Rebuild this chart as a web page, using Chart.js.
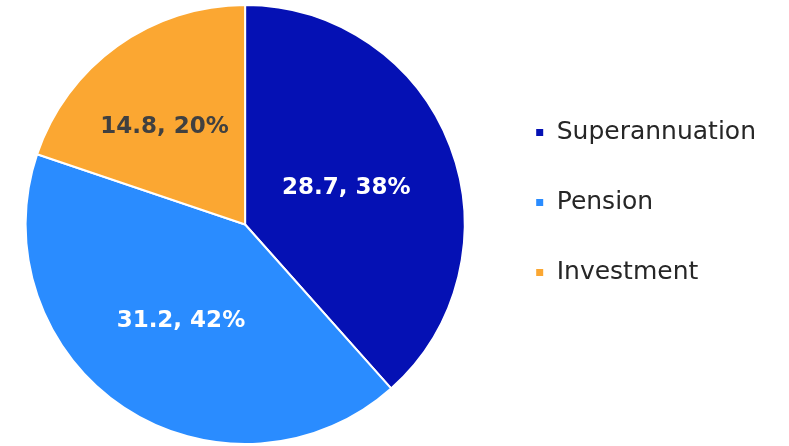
<!DOCTYPE html>
<html>
<head>
<meta charset="utf-8">
<script src="https://cdn.jsdelivr.net/npm/chart.js@4"></script>
<style>
  html, body { margin: 0; padding: 0; background: #fff; }
  #wrap { width: 789px; height: 446px; }
</style>
</head>
<body>
<div id="wrap"><canvas id="pie"></canvas></div>
<script>
const labels = ["Superannuation", "Pension", "Investment"];
const values = [28.7, 31.2, 14.8];
const colors = ["#0511b4", "#2a8cff", "#fba732"];
const labelColors = ["#ffffff", "#ffffff", "#404040"];
const labelDist = [0.49, 0.53, 0.575];
const labelTurn = [1, 0, -4]; // degrees

const total = values.reduce((a, b) => a + b, 0);

// labels "value, pct%" inside the slices
const sliceLabels = {
  id: "sliceLabels",
  afterDatasetsDraw(chart) {
    const ctx = chart.ctx;
    const meta = chart.getDatasetMeta(0);
    ctx.save();
    ctx.font = "bold 23px 'DejaVu Sans'";
    ctx.textAlign = "center";
    ctx.textBaseline = "middle";
    meta.data.forEach((arc, i) => {
      const p = arc.getProps(["x", "y", "startAngle", "endAngle", "outerRadius"], true);
      const mid = (p.startAngle + p.endAngle) / 2 + labelTurn[i] * Math.PI / 180;
      const r = p.outerRadius * labelDist[i];
      const pct = Math.round(values[i] / total * 100);
      ctx.fillStyle = labelColors[i];
      ctx.fillText(values[i] + ", " + pct + "%", p.x + Math.cos(mid) * r, p.y + Math.sin(mid) * r);
    });
    ctx.restore();
  }
};

new Chart(document.getElementById("pie"), {
  type: "pie",
  data: {
    labels,
    datasets: [{
      data: values,
      backgroundColor: colors,
      borderColor: "#ffffff",
      borderWidth: 2
    }]
  },
  options: {
    responsive: true,
    maintainAspectRatio: false,
    animation: false,
    layout: { padding: { top: 4, bottom: 1, left: 0, right: 23 } },
    plugins: {
      tooltip: { enabled: false },
      legend: {
        position: "right",
        align: "start",
        title: { display: true, text: "", font: { size: 10 }, padding: { top: 0, bottom: 59 } },
        labels: {
          boxWidth: 9,
          boxHeight: 9,
          padding: 45,
          color: "#262626",
          font: { family: "'DejaVu Sans'", size: 25 }
        }
      }
    }
  },
  plugins: [sliceLabels]
});
</script>
</body>
</html>
